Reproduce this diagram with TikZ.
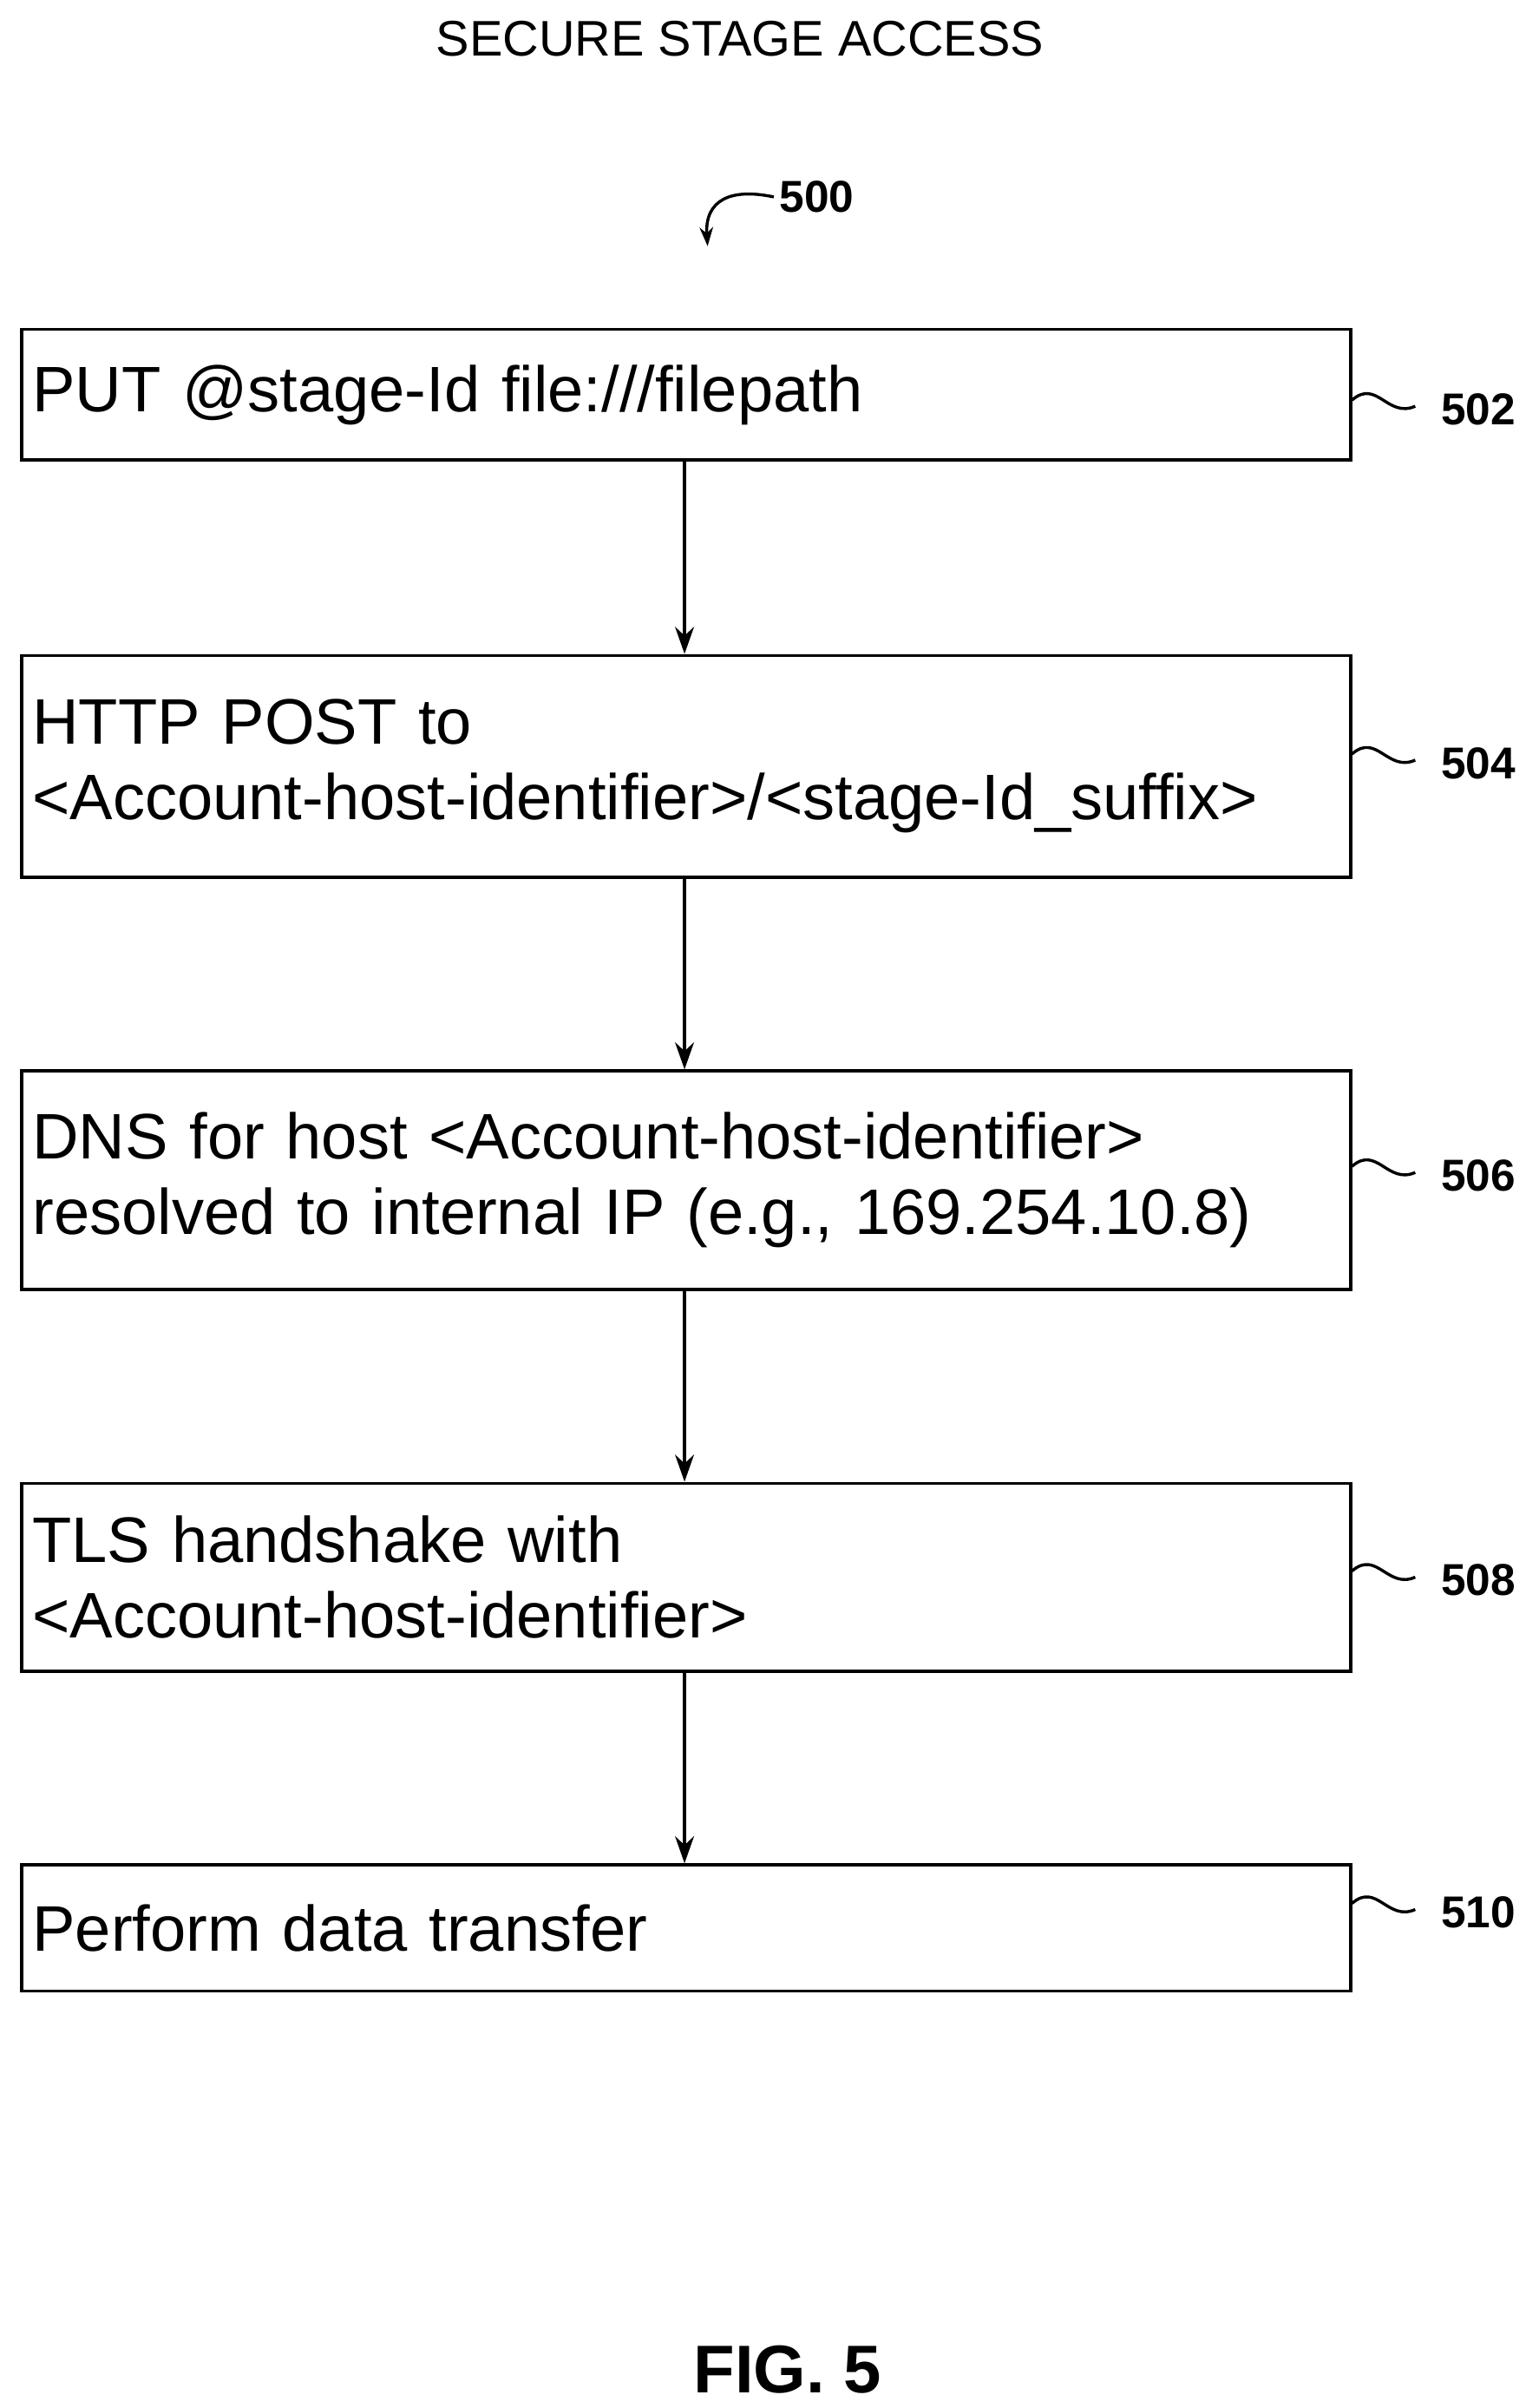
\documentclass[tikz,border=0pt]{standalone}
\usepackage{fontspec}
\setmainfont{Liberation Sans}
\usetikzlibrary{positioning, arrows.meta}

\begin{document}
\begin{tikzpicture}[
        x=0.02cm, y=-0.02cm,
        >={Stealth[length=10pt, width=7pt]},
        % Styles
        stepbox/.style={rectangle, draw, line width=1.2pt, anchor=north west, minimum width=17.28cm,
                text width=17cm, align=left, inner xsep=0.1cm, font=\fontsize{23.8}{28}\selectfont},
        arrow/.style={->, line width=1.2pt},
        reflab/.style={font=\bfseries\fontsize{16.5}{19}\selectfont, anchor=west, inner xsep=2pt},
        squig/.style={line width=1.1pt}, ]

        \useasboundingbox (0,0) rectangle (1000,1565);

        % === TITLE ===
        \node[font=\fontsize{18.5}{22}\selectfont] (title) at (481,25) {SECURE STAGE ACCESS};
        \node[reflab] (l500) at (503,128) {500};
        \coordinate (p500) at (460,160);
        \draw[->, line width=1.1pt, >={Stealth[length=7pt, width=5pt]}] (l500.west) .. controls (475,122) and (458,130) .. (p500);

        % === STEPS ===
        \node[stepbox, minimum height=1.70cm] (s502) at (13,213) {PUT @stage-Id file:///filepath};
        \node[stepbox, minimum height=2.88cm] (s504) at (13,425) {HTTP POST to\\{<}Account-host-identifier{>}/{<}stage-Id\_suffix{>}};
        \node[stepbox, minimum height=2.84cm] (s506) at (13,695) {DNS for host {<}Account-host-identifier{>}\\resolved to internal IP (e.g., 169.254.10.8)};
        \node[stepbox, minimum height=2.44cm] (s508) at (13,963) {TLS handshake with\\{<}Account-host-identifier{>}};
        \node[stepbox, minimum height=1.64cm] (s510) at (13,1211) {Perform data transfer};

        % Connections
        \draw[arrow] (s502.south -| 445,0) -- (s504.north -| 445,0);
        \draw[arrow] (s504.south -| 445,0) -- (s506.north -| 445,0);
        \draw[arrow] (s506.south -| 445,0) -- (s508.north -| 445,0);
        \draw[arrow] (s508.south -| 445,0) -- (s510.north -| 445,0);

        % Reference labels
        \foreach \s/\y in {502/266, 504/496, 506/764, 508/1027, 510/1243} {
            \node[reflab] (l\s) at (933,\y) {\s};
            \coordinate (e\s) at (920,\y-2);
            \draw[squig] (s\s.east |- 0,\y-6) .. controls (895,\y-20) and (902,\y+6) .. (e\s);
        }

        % === FIGURE LABEL ===
        \node[font=\bfseries\fontsize{25}{30}\selectfont] (fig) at (512,1540) {FIG. 5};

    \end{tikzpicture}
\end{document}
